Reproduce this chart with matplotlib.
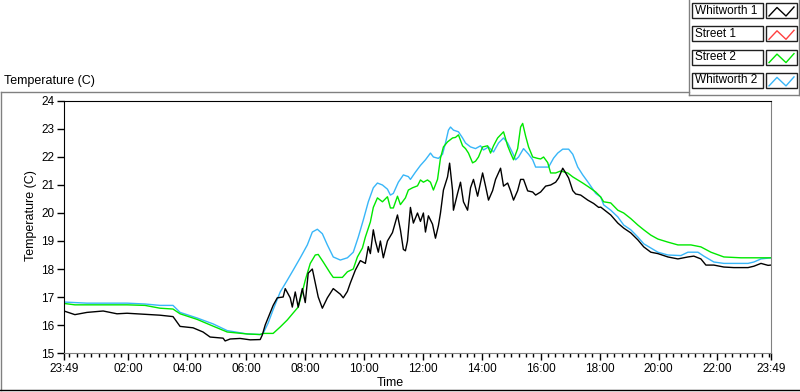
import matplotlib
matplotlib.use('Agg')
import matplotlib.pyplot as plt
from matplotlib.lines import Line2D
from matplotlib.patches import Rectangle

plt.rcParams['font.family'] = ['Liberation Sans', 'DejaVu Sans']

# Nomes e cores das series (legenda)
names = ['Whitworth 1', 'Street 1', 'Street 2', 'Whitworth 2']
colors = ['black', '#ff4040', '#00e800', '#38b6f8']

# Tempo em horas desde 23:49, temperatura em C
w1_t = [0, 0.37, 0.78, 1.33, 1.8, 2.14, 2.75, 3.26, 3.70, 3.77, 3.94, 4.38, 4.72, 4.96, 5.40,
        5.47, 5.64, 5.98, 6.32, 6.66, 6.73, 6.83, 7.10, 7.24, 7.44, 7.51, 7.68, 7.75, 7.85, 7.95,
        8.09, 8.19, 8.29, 8.43, 8.53, 8.63, 8.77, 8.94, 9.14, 9.38, 9.48, 9.62, 9.72, 9.89, 10.06,
        10.23, 10.33, 10.40, 10.50, 10.57, 10.67, 10.74, 10.84, 10.98, 11.15, 11.32, 11.42, 11.52,
        11.59, 11.66, 11.76, 11.86, 12.00, 12.10, 12.20, 12.27, 12.37, 12.51, 12.61, 12.71, 12.78,
        12.88, 13.02, 13.09, 13.19, 13.22, 13.36, 13.46, 13.56, 13.70, 13.80, 13.90, 14.04, 14.21,
        14.31, 14.41, 14.55, 14.65, 14.82, 14.92, 15.06, 15.16, 15.26, 15.40, 15.50, 15.60, 15.74,
        15.91, 16.01, 16.18, 16.35, 16.52, 16.69, 16.79, 16.93, 17.03, 17.13, 17.27, 17.37, 17.54,
        17.78, 17.98, 18.15, 18.22, 18.56, 18.80, 19.00, 19.24, 19.48, 19.68, 19.92, 20.16, 20.50,
        20.84, 21.18, 21.38, 21.62, 21.79, 22.06, 22.40, 22.74, 23.22, 23.42, 23.66, 23.90, 24.0]
w1_v = [16.50, 16.37, 16.45, 16.50, 16.40, 16.42, 16.38, 16.35, 16.30, 16.20, 15.95, 15.90, 15.75,
        15.57, 15.53, 15.43, 15.50, 15.52, 15.47, 15.48, 15.64, 16.00, 16.70, 16.97, 17.00, 17.30,
        16.97, 16.64, 17.18, 16.64, 17.30, 16.80, 17.85, 18.00, 17.50, 17.00, 16.60, 16.97, 17.30,
        17.10, 16.97, 17.20, 17.50, 17.96, 18.30, 18.20, 18.80, 18.55, 19.40, 19.00, 18.60, 19.00,
        18.40, 19.00, 19.30, 19.93, 19.40, 18.70, 18.65, 19.00, 20.20, 19.64, 20.00, 19.70, 20.00,
        19.32, 19.90, 19.60, 19.10, 19.55, 20.00, 20.82, 21.29, 21.78, 20.80, 20.10, 20.70, 21.10,
        20.40, 20.10, 20.90, 21.20, 20.60, 21.43, 20.96, 20.46, 20.80, 21.20, 21.60, 20.96, 21.07,
        20.79, 20.46, 20.80, 21.20, 21.20, 20.79, 20.75, 20.64, 20.75, 20.96, 21.00, 21.10, 21.25,
        21.60, 21.43, 21.25, 20.80, 20.68, 20.64, 20.46, 20.34, 20.20, 20.21, 19.93, 19.64, 19.46,
        19.29, 19.04, 18.79, 18.60, 18.55, 18.43, 18.36, 18.43, 18.46, 18.36, 18.14, 18.14, 18.07,
        18.05, 18.05, 18.10, 18.20, 18.13, 18.14]

s1_t = []
s1_v = []

s2_t = [0, 0.37, 0.78, 2.14, 2.75, 3.26, 3.70, 3.94, 4.52, 5.06, 5.54, 6.22, 6.66, 6.76, 7.10,
        7.34, 7.58, 7.78, 7.95, 8.09, 8.19, 8.36, 8.53, 8.63, 8.80, 9.04, 9.14, 9.45, 9.62, 9.82,
        9.96, 10.13, 10.23, 10.40, 10.50, 10.64, 10.81, 10.98, 11.08, 11.18, 11.32, 11.42, 11.59,
        11.69, 11.83, 12.00, 12.10, 12.20, 12.34, 12.44, 12.54, 12.68, 12.78, 12.88, 13.02, 13.19,
        13.29, 13.39, 13.53, 13.63, 13.73, 13.87, 13.97, 14.07, 14.21, 14.38, 14.48, 14.58, 14.72,
        14.82, 14.92, 15.06, 15.16, 15.26, 15.40, 15.50, 15.57, 15.67, 15.77, 15.91, 16.08, 16.18,
        16.28, 16.42, 16.52, 16.69, 16.86, 17.10, 17.27, 17.44, 17.61, 17.81, 18.05, 18.22, 18.32,
        18.56, 18.80, 19.00, 19.24, 19.48, 19.68, 19.92, 20.16, 20.50, 20.84, 21.28, 21.62, 21.96,
        22.40, 22.98, 24.0]
s2_v = [16.77, 16.72, 16.72, 16.72, 16.70, 16.60, 16.57, 16.40, 16.20, 15.96, 15.75, 15.68, 15.66,
        15.70, 15.70, 15.93, 16.18, 16.43, 16.64, 17.18, 17.60, 18.20, 18.50, 18.52, 18.25, 17.85,
        17.70, 17.70, 17.90, 18.00, 18.43, 18.75, 19.14, 19.68, 20.20, 20.54, 20.40, 20.58, 20.18,
        20.18, 20.60, 20.30, 20.54, 20.82, 20.90, 20.97, 21.18, 21.10, 21.18, 21.10, 20.82, 21.20,
        21.96, 22.36, 22.54, 22.68, 22.70, 22.79, 22.40, 22.30, 22.14, 21.79, 21.85, 22.00, 22.36,
        22.40, 22.14, 22.40, 22.68, 22.79, 22.90, 22.40, 22.14, 21.90, 22.30, 23.07, 23.20, 22.75,
        22.36, 22.00, 21.95, 21.93, 22.00, 21.80, 21.43, 21.43, 21.50, 21.43, 21.29, 21.18, 21.07,
        20.93, 20.75, 20.57, 20.40, 20.36, 20.10, 20.00, 19.80, 19.57, 19.40, 19.21, 19.07, 18.96,
        18.86, 18.86, 18.79, 18.60, 18.43, 18.40, 18.40]

w2_t = [0, 0.78, 2.14, 2.75, 3.26, 3.70, 3.94, 4.52, 5.06, 5.54, 6.22, 6.66, 6.76, 6.93, 7.10,
        7.34, 7.58, 7.78, 8.02, 8.26, 8.43, 8.60, 8.77, 8.94, 9.14, 9.38, 9.62, 9.82, 9.99, 10.16,
        10.33, 10.50, 10.64, 10.81, 10.98, 11.08, 11.18, 11.35, 11.52, 11.69, 11.76, 11.93, 12.10,
        12.27, 12.44, 12.54, 12.71, 12.85, 12.95, 13.05, 13.12, 13.22, 13.39, 13.53, 13.63, 13.80,
        13.97, 14.14, 14.24, 14.41, 14.58, 14.75, 14.92, 15.06, 15.23, 15.33, 15.43, 15.60, 15.77,
        15.91, 16.01, 16.45, 16.62, 16.76, 16.93, 17.13, 17.27, 17.44, 17.61, 17.81, 18.05, 18.22,
        18.32, 18.56, 18.80, 19.00, 19.24, 19.48, 19.68, 19.92, 20.16, 20.50, 20.94, 21.18, 21.52,
        21.72, 22.06, 22.40, 22.74, 23.22, 23.42, 23.66, 24.0]
w2_v = [16.82, 16.78, 16.78, 16.75, 16.70, 16.70, 16.45, 16.25, 16.04, 15.80, 15.68, 15.66, 15.70,
        16.07, 16.55, 17.18, 17.60, 17.96, 18.40, 18.86, 19.32, 19.42, 19.26, 18.86, 18.43, 18.32,
        18.40, 18.60, 19.14, 19.75, 20.40, 20.90, 21.07, 21.00, 20.85, 20.64, 20.70, 21.10, 21.36,
        21.30, 21.20, 21.46, 21.70, 21.90, 22.14, 22.00, 21.95, 22.10, 22.50, 22.96, 23.07, 22.96,
        22.90, 22.68, 22.50, 22.36, 22.30, 22.40, 22.25, 22.36, 22.18, 22.50, 22.68, 22.50, 22.14,
        21.90, 22.00, 22.30, 22.10, 21.90, 21.64, 21.64, 21.96, 22.14, 22.28, 22.28, 22.10, 21.64,
        21.36, 21.07, 20.70, 20.57, 20.29, 20.10, 19.86, 19.57, 19.40, 19.14, 18.90, 18.75, 18.60,
        18.50, 18.48, 18.60, 18.60, 18.46, 18.25, 18.20, 18.20, 18.20, 18.25, 18.36, 18.40]

tick_labels = ['23:49', '02:00', '04:00', '06:00', '08:00', '10:00', '12:00',
               '14:00', '16:00', '18:00', '20:00', '22:00', '23:49']
y_ticks = [15, 16, 17, 18, 19, 20, 21, 22, 23, 24]

W, H = 800, 392
fig = plt.figure(figsize=(W / 100, H / 100), dpi=100)

def fx(x):
    return x / W

def fy(y):
    return 1 - y / H

ax = fig.add_axes([fx(64), fy(353), fx(771 - 64), (353 - 101) / H])

series = [(w1_t, w1_v), (s1_t, s1_v), (s2_t, s2_v), (w2_t, w2_v)]
# desenha de tras para frente: azul, verde, vermelho, preto
for (t, v), c in reversed(list(zip(series, colors))):
    ax.plot(t, v, color=c, lw=1.0)

ax.set_xlim(0, 24)
ax.set_ylim(15, 24)

# posicoes dos ticks a partir das horas
start = 23 * 60 + 49
pos = []
for i, lab in enumerate(tick_labels):
    h, m = lab.split(':')
    p = ((int(h) * 60 + int(m) - start) % 1440) / 60
    if i == len(tick_labels) - 1:
        p = 24.0
    pos.append(p)
ax.set_xticks(pos)
ax.set_xticklabels(tick_labels)
minor = [11 / 60 + k * 0.25 for k in range(96)]
ax.set_xticks([p for p in minor if p < 24], minor=True)
ax.set_yticks(y_ticks)

ax.tick_params(axis='both', which='major', direction='out', length=5, width=1,
               labelsize=8.5, pad=2, color='black')
ax.tick_params(axis='x', which='minor', direction='out', length=3, width=1, color='black')
ax.tick_params(axis='y', which='minor', length=0)

ax.spines['left'].set_color('black')
ax.spines['top'].set_color('black')
ax.spines['right'].set_color('#808080')
ax.spines['bottom'].set_color('#808080')

fig.text(fx(4), fy(81), 'Temperature (C)', fontsize=9, ha='left', va='center')
fig.text(fx(31), fy(216), 'Temperature (C)', fontsize=9, ha='center', va='center', rotation=90)
fig.text(fx(390), fy(383), 'Time', fontsize=9, ha='center', va='center')

# molduras do painel
gray = '#808080'
def linha(x0, y0, x1, y1, c):
    fig.add_artist(Line2D([fx(x0), fx(x1)], [fy(y0), fy(y1)], color=c, lw=1))

linha(0.5, 92, 689, 92, gray)
linha(0.5, 92, 0.5, 390, gray)
linha(0, 390, 799, 390, 'black')
linha(689, 0, 689, 95, gray)
linha(689, 95, 799, 95, gray)
linha(799, 0, 799, 95, gray)

# legenda
for i, (name, c) in enumerate(zip(names, colors)):
    top = 3 + i * 23.3
    fig.add_artist(Rectangle((fx(692), fy(top + 15)), fx(71), 15 / H, facecolor='white',
                             edgecolor='#202020', lw=1))
    fig.text(fx(695), fy(top + 7.5), name, fontsize=8.5, ha='left', va='center')
    fig.add_artist(Rectangle((fx(766), fy(top + 15)), fx(31), 15 / H, facecolor='white',
                             edgecolor='#202020', lw=1))
    fig.add_artist(Line2D([fx(769), fx(777), fx(786), fx(794)],
                          [fy(top + 13), fy(top + 4.5), fy(top + 13), fy(top + 4)],
                          color=c, lw=1))

fig.savefig('out.png', dpi=100)
